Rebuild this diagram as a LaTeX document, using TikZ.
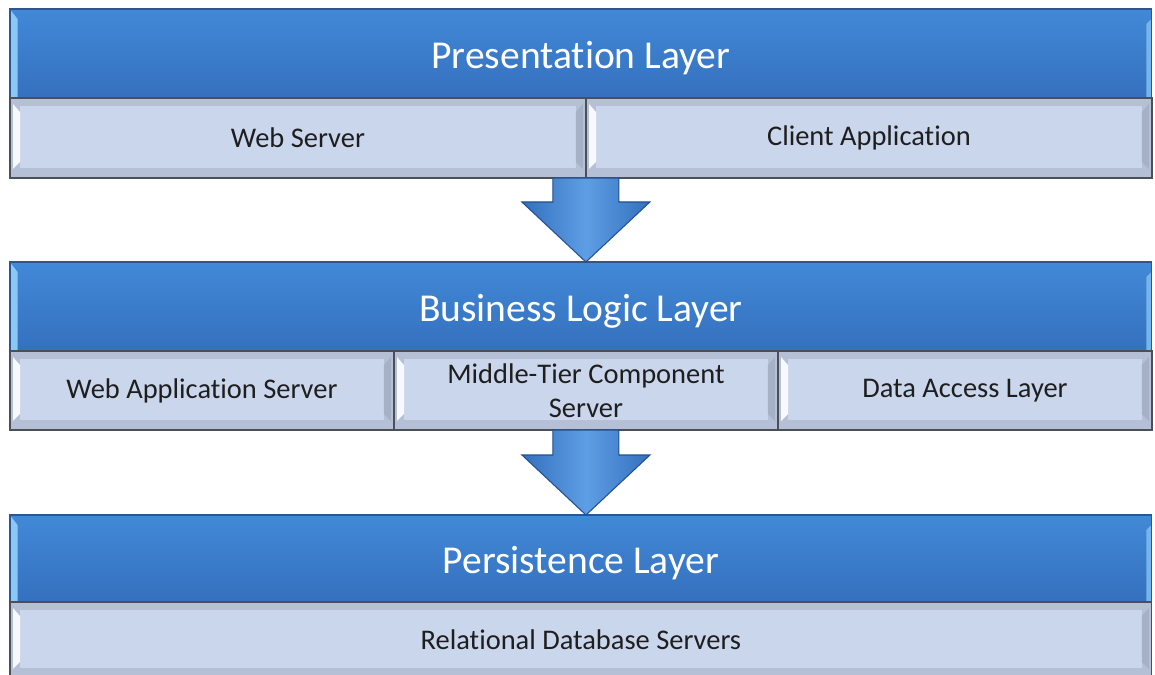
\documentclass[tikz,border=0pt]{standalone}
\usepackage{fontspec}
\setmainfont{Carlito}[Ligatures=NoCommon]
\usetikzlibrary{calc}

\definecolor{hdrtop}{HTML}{4189D8}
\definecolor{hdrbot}{HTML}{3570BD}
\definecolor{hdredge}{HTML}{2B5690}
\definecolor{hdrlight}{HTML}{8CC8F5}
\definecolor{subfill}{HTML}{CAD6EC}
\definecolor{subframe}{HTML}{B5C0D6}
\definecolor{subedge}{HTML}{4B4F58}
\definecolor{subtext}{HTML}{1E1E1E}
\definecolor{arrowmid}{HTML}{5E9EE4}
\definecolor{arrowside}{HTML}{3370BE}
\definecolor{arrowedge}{HTML}{24508E}

\tikzset{
  layerhead/.style={rectangle, anchor=north west, inner sep=0pt, outer sep=0pt,
    minimum width=22.84cm, minimum height=1.78cm, text height=0.6cm, text depth=0pt,
    top color=hdrtop, bottom color=hdrbot, draw=hdredge, line width=0.8pt,
    text=white, font=\fontsize{22.5}{26}\selectfont,
    path picture={
      \fill[hdrlight] ($(path picture bounding box.north west)+(0.5,1)$) -- ++(7,9)
        -- ($(path picture bounding box.south west)+(7.5,0)$)
        -- ($(path picture bounding box.south west)+(0.5,0)$) -- cycle;
      \fill[hdrlight!70!hdrtop] ($(path picture bounding box.north east)+(-0.5,10)$) -- ++(-5,5)
        -- ($(path picture bounding box.south east)+(-5.5,0)$)
        -- ($(path picture bounding box.south east)+(-0.5,0)$) -- cycle;
    }},
  subbox/.style={rectangle, anchor=north west, inner sep=2pt, outer sep=0pt,
    minimum height=1.6cm, fill=subframe, draw=subedge, line width=0.8pt,
    text=subtext, font=\fontsize{16.2}{19.5}\selectfont, align=center,
    path picture={
      \fill[subfill] ($(path picture bounding box.north west)+(10,8)$)
        rectangle ($(path picture bounding box.south east)+(-10,-10)$);
      \fill[white!85!subfill] ($(path picture bounding box.north west)+(3,6)$) -- ++(7,8)
        -- ($(path picture bounding box.south west)+(10,-16)$)
        -- ($(path picture bounding box.south west)+(3,-9)$) -- cycle;
      \fill[subframe!92!black] ($(path picture bounding box.north east)+(-3,6)$) -- ++(-7,8)
        -- ($(path picture bounding box.south east)+(-10,-16)$)
        -- ($(path picture bounding box.south east)+(-3,-9)$) -- cycle;
    }},
  layerarrow/.style={left color=arrowside, right color=arrowside, middle color=arrowmid,
    draw=arrowedge, line width=0.6pt}
}

% block arrow from the bottom of one layer down to the top of the next
\newcommand{\LayerArrow}[2]{%
  \path[layerarrow] let \p1=(#1), \p2=(#2) in
    ($(\p1)+(-33,0)$) -- ($(\x1,\y2)+(-33,-60)$) -- ($(\x1,\y2)+(-64,-60)$)
    -- (\x1,\y2) -- ($(\x1,\y2)+(64,-60)$) -- ($(\x1,\y2)+(33,-60)$)
    -- ($(\p1)+(33,0)$) -- cycle;}

\begin{document}
\begin{tikzpicture}[x=0.02cm, y=-0.02cm]
  \path[use as bounding box, fill=white] (0,0) rectangle (1155,675);

  \node[layerhead] (pres) at (10,9) {Presentation Layer};
  \node[subbox, minimum width=11.52cm] (web) at (10,98) {Web Server};
  \node[subbox, minimum width=11.32cm] (client) at (586,98) {Client Application};

  \node[layerhead] (biz) at (10,262) {Business Logic Layer};
  \node[subbox, minimum width=7.68cm, minimum height=1.58cm] (was) at (10,351) {Web Application Server};
  \node[subbox, minimum width=7.68cm, minimum height=1.58cm] (mts) at (394,351) {Middle-Tier Component\\Server};
  \node[subbox, minimum width=7.48cm, minimum height=1.58cm] (dal) at (778,351) {Data Access Layer};

  \node[layerhead, minimum height=1.74cm] (pers) at (10,515) {Persistence Layer};
  \node[subbox, minimum width=22.84cm, minimum height=1.52cm] (rdb) at (10,602) {Relational Database Servers};

  \LayerArrow{web.south east}{web.south east |- biz.north}
  \LayerArrow{mts.south}{mts.south |- pers.north}
\end{tikzpicture}
\end{document}
